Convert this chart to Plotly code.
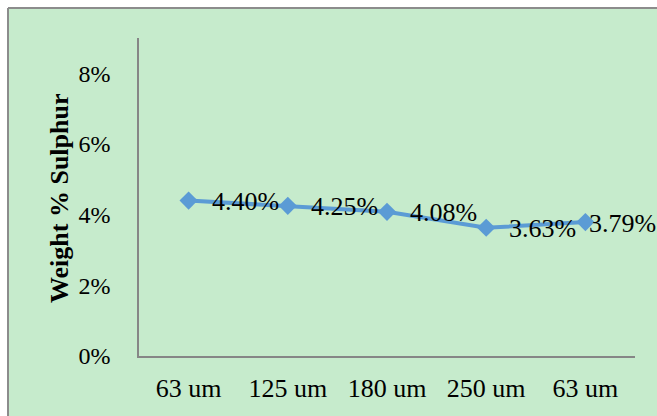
import plotly.graph_objects as go

# Sulphur content by particle size fraction
categories = ["63 um", "125 um", "180 um", "250 um", "63 um"]
sulphur_pct = [4.40, 4.25, 4.08, 3.63, 3.79]
y_ticks = [0, 2, 4, 6, 8]

W, H = 657, 416
L, R, T, B = 139, 22, 38, 60
pw, ph = W - L - R, H - T - B

bg = "#C6EBCC"
line_col = "#5B9BD5"
font_family = "Liberation Serif, Times New Roman, serif"

xs = list(range(len(categories)))

fig = go.Figure()
fig.add_trace(go.Scatter(
    x=xs,
    y=[v / 100 for v in sulphur_pct],
    mode="lines+markers",
    line=dict(color=line_col, width=4),
    marker=dict(symbol="diamond", size=14, color=line_col),
    cliponaxis=False,
    showlegend=False,
))

# Value labels to the right of each point; the last one is pulled in
# so it stays inside the chart area
for i, (x, v) in enumerate(zip(xs, sulphur_pct)):
    shift = 2 if i == len(xs) - 1 else 21
    fig.add_annotation(
        x=x, y=v / 100, text=f"{v:.2f}%", showarrow=False,
        xanchor="left", yanchor="middle", xshift=shift, yshift=-1,
        font=dict(family=font_family, size=26, color="#000000"),
    )

# Axis title
fig.add_annotation(
    xref="paper", yref="paper",
    x=(59 - L) / pw, y=1 - (198 - T) / ph,
    text="<b>Weight % Sulphur</b>", textangle=-90, showarrow=False,
    xanchor="center", yanchor="middle",
    font=dict(family=font_family, size=26, color="#000000"),
)

# Green chart area with a grey frame on the top and left edges
x_left = (8 - L) / pw
y_top = 1 + (T - 8) / ph
fig.add_shape(type="rect", xref="paper", yref="paper",
              x0=x_left, x1=1 + (R + 10) / pw, y0=-(B + 10) / ph, y1=y_top,
              fillcolor=bg, line=dict(width=0), layer="below")
fig.add_shape(type="line", xref="paper", yref="paper",
              x0=x_left, x1=1 + (R + 10) / pw, y0=y_top, y1=y_top,
              line=dict(color="#8C8C8C", width=2))
fig.add_shape(type="line", xref="paper", yref="paper",
              x0=x_left, x1=x_left, y0=-(B + 10) / ph, y1=y_top,
              line=dict(color="#8C8C8C", width=2))

fig.update_layout(
    width=W, height=H,
    margin=dict(l=L, r=R, t=T, b=B),
    paper_bgcolor="#FFFFFF",
    plot_bgcolor="rgba(0,0,0,0)",
    font=dict(family=font_family, size=24, color="#000000"),
    xaxis=dict(
        range=[-0.5, len(categories) - 0.5],
        tickmode="array", tickvals=xs, ticktext=categories,
        showgrid=False, zeroline=False,
        showline=True, linecolor="#868686", linewidth=1.5,
        ticks="", tickfont=dict(size=26), ticklabelstandoff=8,
    ),
    yaxis=dict(
        range=[0, 0.09],
        tickmode="array", tickvals=[t / 100 for t in y_ticks],
        ticktext=[f"{t}%" for t in y_ticks],
        showgrid=False, zeroline=False,
        showline=True, linecolor="#868686", linewidth=1.5,
        ticks="", tickfont=dict(size=24), ticklabelstandoff=22,
    ),
)

fig.write_html("out.html")
